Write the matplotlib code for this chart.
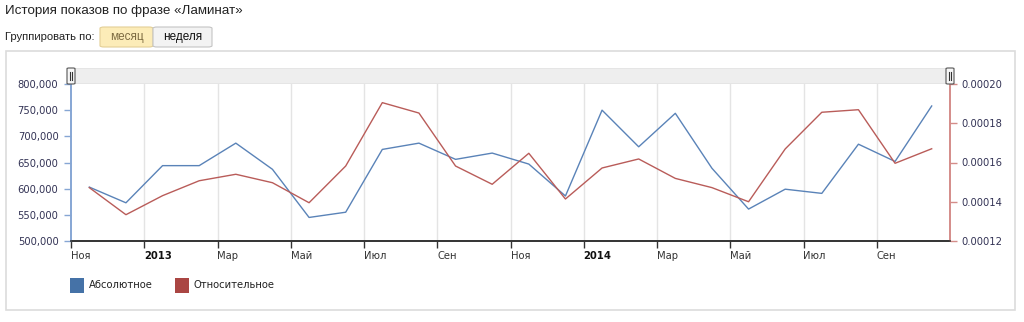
import numpy as np
import matplotlib
matplotlib.use('Agg')
import matplotlib.pyplot as plt
from matplotlib.patches import Rectangle, FancyBboxPatch

# data: monthly values Nov 2012 .. Oct 2014
months = ['Ноя', 'Дек', 'Янв', 'Фев', 'Мар', 'Апр', 'Май', 'Июн', 'Июл', 'Авг', 'Сен', 'Окт',
          'Ноя', 'Дек', 'Янв', 'Фев', 'Мар', 'Апр', 'Май', 'Июн', 'Июл', 'Авг', 'Сен', 'Окт']
abs_vals = [603000, 573000, 644000, 644000, 687000, 637000, 545000, 555000, 675000, 687000, 656000, 668000,
            647000, 586000, 750000, 680000, 744000, 639000, 561000, 599000, 591000, 685000, 652000, 758000]
rel_vals = [0.0001472, 0.0001334, 0.0001431, 0.0001507, 0.0001540, 0.0001497, 0.0001395, 0.0001582,
            0.0001905, 0.0001852, 0.0001582, 0.0001489, 0.0001647, 0.0001414, 0.0001572, 0.0001618,
            0.0001519, 0.0001472, 0.0001400, 0.0001669, 0.0001856, 0.0001869, 0.0001596, 0.0001670]
tick_labels = ['Ноя', '2013', 'Мар', 'Май', 'Июл', 'Сен', 'Ноя', '2014', 'Мар', 'Май', 'Июл', 'Сен']
left_ticks = [500000, 550000, 600000, 650000, 700000, 750000, 800000]
right_ticks = [0.00012, 0.00014, 0.00016, 0.00018, 0.00020]

blue = '#4572A7'
red = '#AA4643'

W, H = 1024, 322
def fx(px): return px / W
def fy(py): return 1 - py / H

fig = plt.figure(figsize=(W / 100, H / 100), dpi=100)
fig.patch.set_facecolor('white')

# header
fig.text(fx(5), fy(11), 'История показов по фразе «Ламинат»', family='Liberation Sans',
         fontsize=9.6, color='#222222', va='center', ha='left')
fig.text(fx(5), fy(37), 'Группировать по:', family='Liberation Sans',
         fontsize=8.1, color='#222222', va='center', ha='left')
fig.patches.append(FancyBboxPatch((fx(100), fy(47)), fx(153) - fx(100), fy(27) - fy(47),
                                  boxstyle='round,pad=0,rounding_size=0.004', transform=fig.transFigure,
                                  facecolor='#fcecb8', edgecolor='#e3cf96', lw=0.8))
fig.patches.append(FancyBboxPatch((fx(153), fy(47)), fx(212) - fx(153), fy(27) - fy(47),
                                  boxstyle='round,pad=0,rounding_size=0.004', transform=fig.transFigure,
                                  facecolor='#f3f3f3', edgecolor='#c4c4c4', lw=0.8))
fig.text(fx(126.5), fy(37), 'месяц', family='Liberation Sans', fontsize=8.5, color='#7d6b42',
         ha='center', va='center')
fig.text(fx(182.5), fy(37), 'неделя', family='Liberation Sans', fontsize=8.5, color='#111111',
         ha='center', va='center')

# panel frame (behind the axes)
fig.patches.append(Rectangle((fx(6), fy(310)), fx(1015) - fx(6), fy(51) - fy(310),
                             transform=fig.transFigure, facecolor='none', edgecolor='#dcdcdc',
                             lw=1.2, zorder=-1))

# navigator bar
fig.patches.append(Rectangle((fx(71), fy(83)), fx(950) - fx(71), fy(68) - fy(83),
                             transform=fig.transFigure, facecolor='#eeeeee', edgecolor='#e2e2e2', lw=0.6))
for hx in (71, 950):
    fig.patches.append(FancyBboxPatch((fx(hx - 4), fy(84)), fx(8), fy(68) - fy(84),
                                      boxstyle='round,pad=0,rounding_size=0.002', transform=fig.transFigure,
                                      facecolor='#f6f6f6', edgecolor='#555555', lw=0.8, zorder=5))
    for dx in (-1.2, 1.2):
        fig.lines.append(plt.Line2D([fx(hx + dx)] * 2, [fy(80), fy(72)], transform=fig.transFigure,
                                    color='#333333', lw=0.8, zorder=6))

ax = fig.add_axes([fx(71), fy(241), fx(950) - fx(71), fy(84) - fy(241)])
ax2 = ax.twinx()

x = np.arange(len(abs_vals)) + 0.5
ax.plot(x, abs_vals, color='#5a83b8', lw=1.0, zorder=3)
ax2.plot(x, rel_vals, color='#b95c59', lw=1.0, zorder=3)

ax.set_xlim(0, 24)
ax.set_ylim(500000, 800000)
ax2.set_ylim(0.00012, 0.00020)

xt = np.arange(0, 24, 2)
ax.set_xticks(xt)
ax.set_xticklabels(tick_labels, ha='left', fontsize=7.2, color='#333333', family='DejaVu Sans')
for lab in ax.get_xticklabels():
    if lab.get_text() in ('2013', '2014'):
        lab.set_fontweight('bold')
        lab.set_color('#111111')
ax.tick_params(axis='x', length=5, width=1, color='#333333', pad=2)
for xv in xt[1:]:
    ax.axvline(xv, color='#e4e4e4', lw=1, zorder=0)

ax.set_yticks(left_ticks)
ax.set_yticklabels(['{:,}'.format(v) for v in left_ticks], fontsize=7.2, color='#333355')
ax.tick_params(axis='y', length=5, width=1, color='#86a6d4', pad=4)
ax2.set_yticks(right_ticks)
ax2.set_yticklabels(['{:.5f}'.format(v) for v in right_ticks], fontsize=7.2, color='#333355')
ax2.tick_params(axis='y', length=5, width=1, color='#d48c89', pad=3)

for a in (ax, ax2):
    a.spines['top'].set_visible(False)
    a.spines['bottom'].set_color('#333333')
    a.spines['bottom'].set_linewidth(1.2)
    a.spines['left'].set_color('#86a6d4')
    a.spines['right'].set_color('#d48c89')
    a.spines['left'].set_linewidth(1.2)
    a.spines['right'].set_linewidth(1.2)
ax.set_facecolor('none')

# legend
fig.patches.append(Rectangle((fx(70), fy(293)), fx(14), fy(278) - fy(293), transform=fig.transFigure,
                             facecolor=blue, edgecolor='none'))
fig.text(fx(89), fy(285.5), 'Абсолютное', fontsize=7.2, color='#222222', va='center', ha='left')
fig.patches.append(Rectangle((fx(175), fy(293)), fx(14), fy(278) - fy(293), transform=fig.transFigure,
                             facecolor=red, edgecolor='none'))
fig.text(fx(194), fy(285.5), 'Относительное', fontsize=7.2, color='#222222', va='center', ha='left')

plt.savefig('out.png', dpi=100)
